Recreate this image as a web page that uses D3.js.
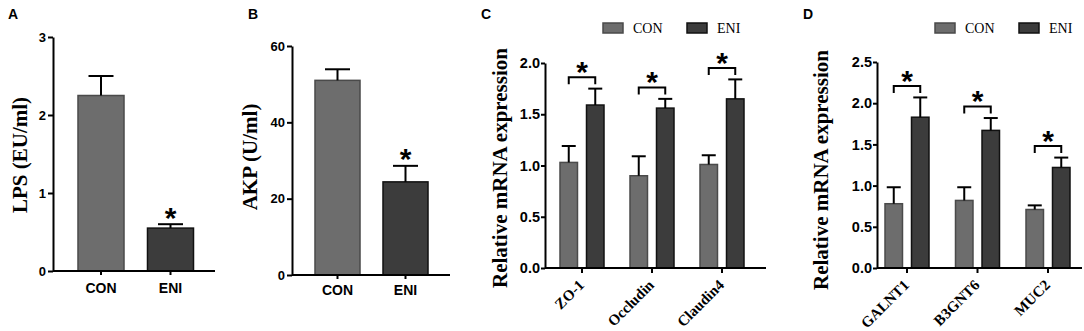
<!DOCTYPE html>
<html>
<head>
<meta charset="utf-8">
<script src="https://cdn.jsdelivr.net/npm/d3@7"></script>
<style>
  body { margin: 0; background: #fff; }
  svg { display: block; }
</style>
</head>
<body>
<svg id="fig" width="1084" height="331"></svg>
<script>
// --- data ---
const groups = ["CON", "ENI"];

const lpsMean = [2.25, 0.55];
const lpsErr = [0.25, 0.05];
const lpsTicks = [0, 1, 2, 3];

const akpMean = [51.0, 24.4];
const akpErr = [2.9, 4.2];
const akpTicks = [0, 20, 40, 60];

const tjGenes = ["ZO-1", "Occludin", "Claudin4"];
const tjCon = [1.03, 0.90, 1.01];
const tjConErr = [0.16, 0.19, 0.09];
const tjEni = [1.59, 1.56, 1.65];
const tjEniErr = [0.16, 0.09, 0.19];
const tjTicks = [0, 0.5, 1.0, 1.5, 2.0];

const mucGenes = ["GALNT1", "B3GNT6", "MUC2"];
const mucCon = [0.78, 0.82, 0.71];
const mucConErr = [0.20, 0.16, 0.05];
const mucEni = [1.83, 1.67, 1.22];
const mucEniErr = [0.24, 0.15, 0.12];
const mucTicks = [0, 0.5, 1.0, 1.5, 2.0, 2.5];

const fills = { CON: "#6d6d6d", ENI: "#3c3c3c" };
const strokes = { CON: "#4a4a4a", ENI: "#111" };
const SANS = "'Liberation Sans', Arial, sans-serif";
const SERIF = "'Liberation Serif', 'Times New Roman', serif";

const svg = d3.select("#fig");

function letter(x, y, t) {
  svg.append("text").attr("x", x).attr("y", y).text(t)
    .attr("font-family", SANS).attr("font-weight", "bold").attr("font-size", 14);
}

function yTitle(x, y, t) {
  svg.append("text")
    .attr("transform", `translate(${x},${y}) rotate(-90)`)
    .attr("text-anchor", "middle").attr("dy", "0.35em")
    .attr("font-family", SERIF).attr("font-weight", "bold").attr("font-size", 21)
    .text(t);
}

function styleAxis(g, fs) {
  g.attr("font-size", null).attr("font-family", null);
  g.selectAll("path, line").attr("stroke", "#000").attr("stroke-width", 2);
  g.selectAll("text").attr("font-family", SANS).attr("font-weight", "bold")
    .attr("font-size", fs).attr("fill", "#000");
}

// asterisk centred on (x, y)
function star(x, y) {
  svg.append("text").attr("x", x).attr("y", y).attr("text-anchor", "middle")
    .attr("dy", "0.56em")
    .attr("font-family", SANS).attr("font-weight", "bold").attr("font-size", 30)
    .text("*");
}

// ---- simple two-bar panels (A, B) ----
function simplePanel(o) {
  const x = d3.scaleBand().domain(groups).range(o.xr).paddingInner(0.338).paddingOuter(0.169);
  const y = d3.scaleLinear().domain(o.yd).range(o.yr);
  const g = svg.append("g");

  const rows = groups.map((k, i) => ({ k, m: o.mean[i], e: o.err[i] }));

  g.selectAll("rect.bar").data(rows).join("rect")
    .attr("x", d => x(d.k)).attr("width", x.bandwidth())
    .attr("y", d => y(d.m)).attr("height", d => y(0) - y(d.m))
    .attr("fill", d => fills[d.k]).attr("stroke", d => strokes[d.k]).attr("stroke-width", 1.5);

  const cx = d => x(d.k) + x.bandwidth() / 2;
  g.selectAll("line.err").data(rows).join("line")
    .attr("x1", cx).attr("x2", cx).attr("y1", d => y(d.m)).attr("y2", d => y(d.m + d.e))
    .attr("stroke", "#000").attr("stroke-width", 2);
  g.selectAll("line.cap").data(rows).join("line")
    .attr("x1", d => cx(d) - 12.5).attr("x2", d => cx(d) + 12.5)
    .attr("y1", d => y(d.m + d.e)).attr("y2", d => y(d.m + d.e))
    .attr("stroke", "#000").attr("stroke-width", 2);

  const r = rows[1];
  star(cx(r), y(r.m + r.e) - 13.5);

  const ga = svg.append("g").attr("transform", `translate(${o.ax},0)`)
    .call(d3.axisLeft(y).tickValues(o.ticks).tickFormat(d3.format("d"))
      .tickSize(5).tickPadding(2).tickSizeOuter(0));
  styleAxis(ga, 13);

  const gb = svg.append("g").attr("transform", `translate(0,${y(0)})`)
    .call(d3.axisBottom(x).tickSize(4).tickPadding(o.xpad).tickSizeOuter(0));
  gb.select(".domain").remove();
  gb.append("line").attr("x1", o.ax).attr("x2", o.axEnd).attr("stroke", "#000");
  styleAxis(gb, 14);

  yTitle(o.tx, o.ty, o.title);
}

simplePanel({ mean: lpsMean, err: lpsErr, ticks: lpsTicks, yd: [0, 3], yr: [271, 37],
  xr: [66.25, 205.25], ax: 53, axEnd: 215, xpad: 8, title: "LPS (EU/ml)", tx: 20, ty: 155 });
simplePanel({ mean: akpMean, err: akpErr, ticks: akpTicks, yd: [0, 60], yr: [275, 46],
  xr: [303.5, 439.5], ax: 292, axEnd: 450, xpad: 6, title: "AKP (U/ml)", tx: 250, ty: 157 });

// ---- grouped panels (C, D) ----
function groupedPanel(o) {
  const x0 = d3.scaleBand().domain(o.genes).range(o.xr);
  const x1 = d3.scaleBand().domain(groups).range([-22, 22]).paddingInner(0.34);
  const y = d3.scaleLinear().domain(o.yd).range(o.yr);
  const g = svg.append("g");

  const rows = [];
  o.genes.forEach((gene, i) => {
    rows.push({ gene, k: "CON", m: o.con[i], e: o.conErr[i] });
    rows.push({ gene, k: "ENI", m: o.eni[i], e: o.eniErr[i] });
  });
  const c = gene => x0(gene) + x0.bandwidth() / 2;
  const bx = d => c(d.gene) + x1(d.k);
  const cx = d => bx(d) + x1.bandwidth() / 2;

  g.selectAll("rect.bar").data(rows).join("rect")
    .attr("x", bx).attr("width", x1.bandwidth())
    .attr("y", d => y(d.m)).attr("height", d => y(0) - y(d.m))
    .attr("fill", d => fills[d.k]).attr("stroke", d => strokes[d.k]).attr("stroke-width", 1.5);

  g.selectAll("line.err").data(rows).join("line")
    .attr("x1", cx).attr("x2", cx).attr("y1", d => y(d.m)).attr("y2", d => y(d.m + d.e))
    .attr("stroke", "#000").attr("stroke-width", 2);
  g.selectAll("line.cap").data(rows).join("line")
    .attr("x1", d => cx(d) - 7).attr("x2", d => cx(d) + 7)
    .attr("y1", d => y(d.m + d.e)).attr("y2", d => y(d.m + d.e))
    .attr("stroke", "#000").attr("stroke-width", 2);

  // significance brackets
  o.genes.forEach((gene, i) => {
    const xa = c(gene) + x1("CON") + x1.bandwidth() / 2;
    const xb = c(gene) + x1("ENI") + x1.bandwidth() / 2;
    const yb = y(o.eni[i] + o.eniErr[i]) - 11.5;
    g.append("path")
      .attr("d", `M${xa},${yb + 7}V${yb}H${xb}V${yb + 7}`)
      .attr("fill", "none").attr("stroke", "#000").attr("stroke-width", 2);
    star((xa + xb) / 2, yb - 12);
  });

  const ga = svg.append("g").attr("transform", `translate(${o.ax},0)`)
    .call(d3.axisLeft(y).tickValues(o.ticks).tickFormat(d3.format(".1f"))
      .tickSize(4).tickPadding(1).tickSizeOuter(0));
  styleAxis(ga, 14.5);

  const gb = svg.append("g").attr("transform", `translate(0,${y(0)})`)
    .call(d3.axisBottom(x0).tickSize(5).tickSizeOuter(0));
  gb.select(".domain").remove();
  gb.append("line").attr("x1", o.ax).attr("x2", o.axEnd).attr("stroke", "#000");
  styleAxis(gb, 15);
  gb.selectAll(".tick text")
    .attr("font-family", SERIF)
    .attr("text-anchor", "end").attr("x", 0).attr("y", 0).attr("dy", 0)
    .attr("transform", "translate(3,18) rotate(-45)");

  // legend
  groups.forEach((k, i) => {
    const lx = o.ax + (i === 0 ? 58 : 142);
    svg.append("rect").attr("x", lx).attr("y", 23).attr("width", 20).attr("height", 10)
      .attr("fill", fills[k]).attr("stroke", strokes[k]).attr("stroke-width", 1.5);
    svg.append("text").attr("x", lx + 30).attr("y", 33).text(k)
      .attr("font-family", SERIF).attr("font-size", 14);
  });

  yTitle(o.tx, o.ty, "Relative mRNA expression");
}

groupedPanel({ genes: tjGenes, con: tjCon, conErr: tjConErr, eni: tjEni, eniErr: tjEniErr,
  ticks: tjTicks, yd: [0, 2], yr: [268, 63], xr: [547, 757], ax: 545, axEnd: 766, tx: 500, ty: 168 });
groupedPanel({ genes: mucGenes, con: mucCon, conErr: mucConErr, eni: mucEni, eniErr: mucEniErr,
  ticks: mucTicks, yd: [0, 2.5], yr: [268, 62], xr: [871.75, 1083.25], ax: 877, axEnd: 1082, tx: 821, ty: 170 });

letter(8, 19, "A");
letter(248, 19, "B");
letter(481, 19, "C");
letter(803, 19, "D");
</script>
</body>
</html>
